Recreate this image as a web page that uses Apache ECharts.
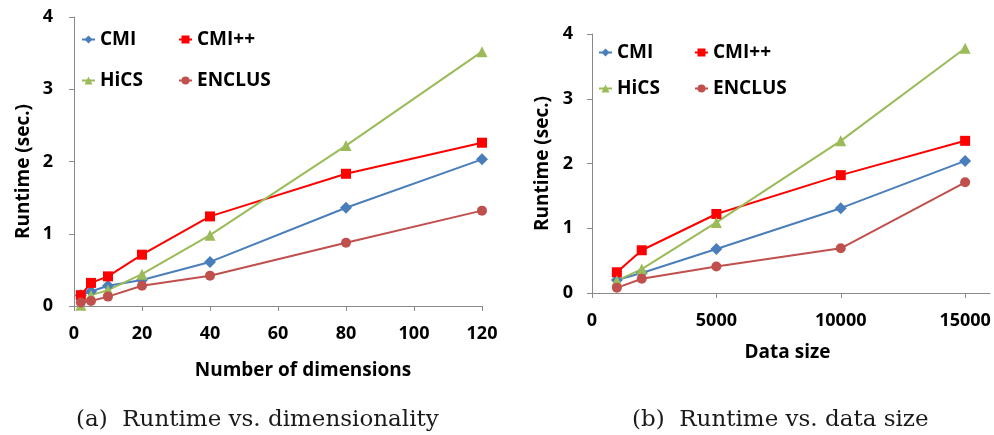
<!DOCTYPE html>
<html>
<head>
<meta charset="utf-8">
<script src="https://cdn.jsdelivr.net/npm/echarts@6/dist/echarts.min.js"></script>
<style>
  html, body { margin: 0; padding: 0; background: #fff; }
  #chart { width: 994px; height: 435px; }
</style>
</head>
<body>
<div id="chart"></div>
<script>
// (a) runtime against number of dimensions
const dims = [2, 5, 10, 20, 40, 80, 120];
const cmiDim = [0.15, 0.2, 0.28, 0.36, 0.61, 1.36, 2.03];
const cmippDim = [0.15, 0.32, 0.41, 0.71, 1.24, 1.83, 2.26];
const hicsDim = [0.01, 0.15, 0.22, 0.44, 0.98, 2.22, 3.52];
const enclusDim = [0.05, 0.07, 0.13, 0.28, 0.42, 0.875, 1.32];

// (b) runtime against data size
const sizes = [1000, 2000, 5000, 10000, 15000];
const cmiSize = [0.2, 0.31, 0.68, 1.31, 2.04];
const cmippSize = [0.32, 0.66, 1.22, 1.82, 2.35];
const hicsSize = [0.19, 0.37, 1.09, 2.35, 3.78];
const enclusSize = [0.08, 0.22, 0.41, 0.69, 1.71];

const sizeTicks = [0, 5000, 10000, 15000];
const captionA = '(a)  Runtime vs. dimensionality';
const captionB = '(b)  Runtime vs. data size';

const FONT = 'Open Sans';
const AXIS_GRAY = '#898989';

const styles = {
  'CMI':    { color: '#4A7EBB', symbol: 'diamond',  size: 12 },
  'CMI++':  { color: '#FF0000', symbol: 'rect',     size: 10 },
  'HiCS':   { color: '#9BBB59', symbol: 'triangle', size: 11 },
  'ENCLUS': { color: '#C0504D', symbol: 'circle',   size: 10 }
};

function pairs(xs, ys) { return xs.map((x, i) => [x, ys[i]]); }

function lineSeries(name, xs, ys, idx) {
  const s = styles[name];
  return {
    name: name,
    type: 'line',
    xAxisIndex: idx,
    yAxisIndex: idx,
    data: pairs(xs, ys),
    symbol: s.symbol,
    symbolSize: s.size,
    showAllSymbol: true,
    lineStyle: { color: s.color, width: 2 },
    itemStyle: { color: s.color },
    emphasis: { disabled: true },
    animation: false
  };
}

function legendAt(name, left, top) {
  return {
    data: [name],
    left: left,
    top: top,
    padding: 0,
    itemWidth: 13,
    itemHeight: 10,
    textStyle: { fontFamily: FONT, fontWeight: 'bold', fontSize: 19, color: '#000' },
    selectedMode: false
  };
}

const axisLine = { show: true, lineStyle: { color: AXIS_GRAY, width: 1 } };
const axisTick = { show: true, length: 5, lineStyle: { color: AXIS_GRAY } };
const labelStyle = { fontFamily: FONT, fontWeight: 'bold', fontSize: 18, color: '#000' };
const nameStyle = { fontFamily: FONT, fontWeight: 'bold', fontSize: 19, color: '#000' };

const option = {
  backgroundColor: '#fff',
  animation: false,
  grid: [
    { left: 74, top: 17, width: 408, height: 289, containLabel: false },
    { left: 592, top: 34, width: 398, height: 259, containLabel: false }
  ],
  xAxis: [
    {
      type: 'value', gridIndex: 0, min: 0, max: 120, interval: 20,
      axisLine: axisLine, axisTick: axisTick, splitLine: { show: false },
      axisLabel: Object.assign({ margin: 19 }, labelStyle),
      name: 'Number of dimensions', nameLocation: 'middle', nameGap: 55,
      nameTextStyle: Object.assign({ padding: [0, 0, 0, 50] }, nameStyle)
    },
    {
      type: 'value', gridIndex: 1, min: 0, max: 16000,
      axisLine: axisLine,
      axisTick: Object.assign({ customValues: sizeTicks }, axisTick),
      splitLine: { show: false },
      axisLabel: Object.assign({
        margin: 19, customValues: sizeTicks,
        formatter: (v) => String(v)
      }, labelStyle),
      name: 'Data size', nameLocation: 'middle', nameGap: 50,
      nameTextStyle: Object.assign({ padding: [0, 7, 0, 0] }, nameStyle)
    }
  ],
  yAxis: [
    {
      type: 'value', gridIndex: 0, min: 0, max: 4, interval: 1,
      axisLine: axisLine, axisTick: axisTick, splitLine: { show: false },
      axisLabel: Object.assign({ margin: 21 }, labelStyle),
      name: 'Runtime (sec.)', nameLocation: 'middle', nameGap: 41,
      nameTextStyle: Object.assign({ padding: [0, 20, 0, 0] }, nameStyle)
    },
    {
      type: 'value', gridIndex: 1, min: 0, max: 4, interval: 1,
      axisLine: axisLine, axisTick: axisTick, splitLine: { show: false },
      axisLabel: Object.assign({ margin: 19 }, labelStyle),
      name: 'Runtime (sec.)', nameLocation: 'middle', nameGap: 40,
      nameTextStyle: nameStyle
    }
  ],
  legend: [
    legendAt('CMI', 81, 30),
    legendAt('CMI++', 178, 30),
    legendAt('HiCS', 81, 71),
    legendAt('ENCLUS', 178, 71),
    legendAt('CMI', 598, 43),
    legendAt('CMI++', 694, 43),
    legendAt('HiCS', 598, 79),
    legendAt('ENCLUS', 694, 79)
  ],
  series: [
    lineSeries('CMI', dims, cmiDim, 0),
    lineSeries('CMI++', dims, cmippDim, 0),
    lineSeries('HiCS', dims, hicsDim, 0),
    lineSeries('ENCLUS', dims, enclusDim, 0),
    lineSeries('CMI', sizes, cmiSize, 1),
    lineSeries('CMI++', sizes, cmippSize, 1),
    lineSeries('HiCS', sizes, hicsSize, 1),
    lineSeries('ENCLUS', sizes, enclusSize, 1)
  ],
  graphic: [
    {
      type: 'text', left: 76, top: 409,
      style: { text: captionA, fontFamily: 'DejaVu Serif', fontSize: 23, fill: '#1a1a1a' }
    },
    {
      type: 'text', left: 632, top: 409,
      style: { text: captionB, fontFamily: 'DejaVu Serif', fontSize: 23, fill: '#1a1a1a' }
    }
  ]
};

const chart = echarts.init(document.getElementById('chart'), null, { renderer: 'canvas' });
chart.setOption(option);
</script>
</body>
</html>
